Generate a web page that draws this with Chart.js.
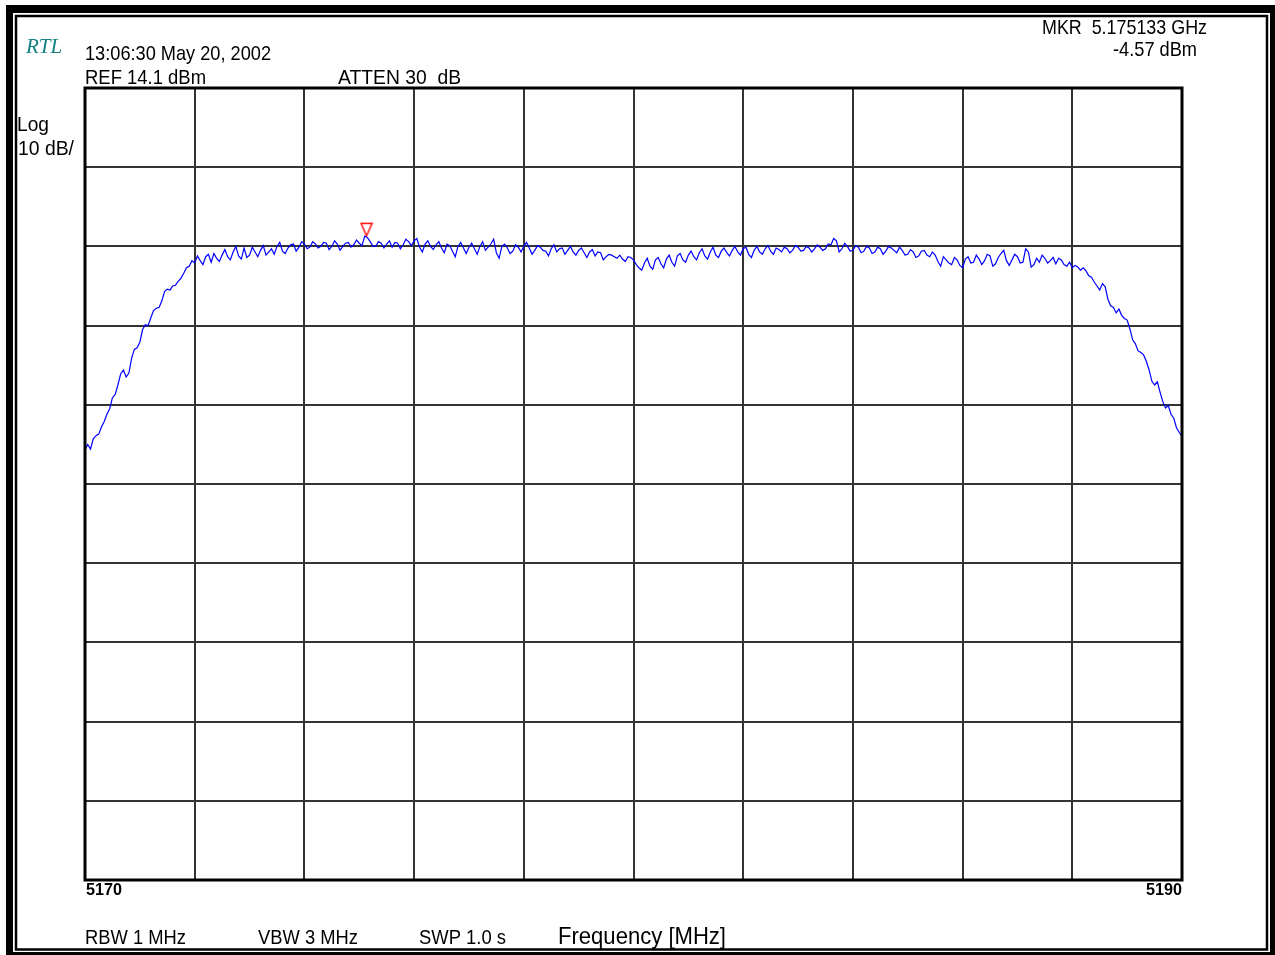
<!DOCTYPE html>
<html>
<head>
<meta charset="utf-8">
<title>Spectrum 5170-5190 MHz</title>
<script src="https://cdn.jsdelivr.net/npm/chart.js@4.4.1/dist/chart.umd.min.js"></script>
<style>
  html, body { margin: 0; padding: 0; background: #fff; }
  canvas { display: block; }
</style>
</head>
<body>
<canvas id="spec" width="1275" height="955"></canvas>
<script>
// sweep: 401 points, 5170..5190 MHz
var FREQ_START_MHZ = 5170;
var FREQ_STOP_MHZ = 5190;

// trace level in dBm (0.05 MHz per point)
var LEVEL_DBM = [
  -31.6, -30.9, -31.5, -30.2, -29.8, -29.6, -28.7, -28.0, -27.1, -26.4, -25.0, -24.6, -23.4, -22.0, -21.5, -22.4, -21.9, -20.0, -18.9, -18.7,
  -18.0, -16.4, -15.8, -15.9, -14.9, -14.0, -13.7, -13.6, -12.8, -11.6, -11.3, -11.4, -10.9, -10.8, -10.3, -9.9, -9.3, -8.6, -8.4, -7.7,
  -8.0, -7.1, -7.7, -8.2, -7.2, -6.9, -7.9, -6.8, -7.4, -7.8, -7.0, -6.3, -7.2, -7.6, -6.6, -5.9, -7.1, -7.5, -6.1, -7.3,
  -7.0, -6.0, -6.6, -7.2, -6.4, -5.8, -7.0, -6.6, -6.2, -6.9, -5.9, -5.4, -6.5, -6.8, -6.1, -5.7, -5.6, -6.5, -6.0, -5.3,
  -5.6, -6.2, -6.0, -5.3, -5.6, -6.1, -5.9, -5.4, -5.5, -6.3, -5.9, -5.2, -5.6, -6.4, -5.9, -5.5, -5.4, -6.0, -5.7, -5.1,
  -5.5, -5.8, -4.6, -4.8, -5.3, -5.9, -5.9, -5.3, -5.5, -6.1, -5.6, -5.2, -6.0, -5.4, -5.5, -6.2, -5.7, -5.0, -5.3, -5.8,
  -5.2, -4.9, -6.0, -6.6, -5.6, -5.2, -5.9, -6.3, -5.7, -5.3, -6.1, -6.7, -5.6, -5.8, -6.5, -7.2, -5.9, -5.4, -6.1, -6.8,
  -6.0, -5.5, -6.2, -6.9, -5.9, -5.3, -6.4, -6.0, -5.6, -5.0, -6.7, -7.4, -5.9, -5.6, -6.1, -6.8, -6.5, -5.7, -6.0, -6.6,
  -5.9, -5.4, -6.1, -6.9, -6.4, -5.8, -6.0, -6.4, -6.5, -7.1, -6.2, -5.7, -6.6, -6.2, -6.1, -6.9, -6.4, -5.9, -6.6, -7.0,
  -6.4, -6.1, -6.7, -7.3, -6.6, -6.3, -7.1, -6.6, -6.7, -7.6, -7.2, -6.9, -7.0, -7.2, -7.4, -7.0, -7.5, -7.8, -7.2, -7.3,
  -7.6, -8.2, -8.6, -8.9, -8.0, -7.4, -8.4, -8.8, -7.6, -7.3, -8.1, -8.6, -7.5, -7.0, -7.9, -8.4, -7.1, -6.8, -7.6, -7.9,
  -7.0, -6.5, -7.2, -7.6, -6.7, -6.2, -7.1, -7.5, -6.6, -6.0, -7.0, -7.3, -6.5, -6.1, -6.7, -7.1, -6.4, -5.9, -6.6, -7.0,
  -6.2, -6.0, -6.9, -7.3, -6.4, -5.9, -6.6, -6.9, -6.2, -5.8, -6.5, -6.9, -6.1, -6.3, -6.6, -6.0, -6.2, -6.7, -6.4, -5.8,
  -6.0, -6.5, -6.4, -5.9, -6.1, -6.6, -6.2, -5.7, -6.0, -6.4, -6.2, -5.6, -5.7, -4.9, -5.2, -6.6, -6.2, -5.5, -5.9, -6.5,
  -6.4, -5.8, -6.0, -6.7, -6.5, -5.9, -6.1, -6.8, -6.6, -6.0, -6.2, -6.9, -6.5, -5.9, -6.1, -6.4, -6.7, -6.0, -6.4, -7.0,
  -6.9, -6.3, -6.6, -7.3, -7.1, -6.5, -6.4, -7.0, -7.2, -6.6, -7.0, -7.8, -8.4, -7.2, -7.6, -8.0, -8.2, -7.3, -7.6, -8.3,
  -8.6, -7.5, -7.2, -8.0, -7.9, -7.0, -7.5, -8.2, -7.7, -6.9, -7.1, -8.4, -8.1, -7.3, -6.8, -6.4, -7.7, -8.3, -7.6, -6.9,
  -7.2, -8.0, -7.9, -6.2, -6.6, -8.5, -8.2, -7.4, -7.9, -7.0, -7.4, -8.0, -7.7, -7.3, -8.1, -7.4, -7.6, -8.2, -8.4, -7.9,
  -8.6, -8.3, -8.5, -8.9, -8.6, -9.0, -9.6, -9.8, -10.4, -10.9, -11.4, -10.6, -11.0, -12.6, -13.4, -13.6, -14.3, -13.8, -14.6, -15.0,
  -15.2, -16.3, -17.7, -18.2, -19.1, -19.3, -19.6, -20.4, -21.5, -22.9, -23.4, -23.0, -24.3, -25.5, -26.3, -26.0, -27.1, -27.6, -28.8, -29.4,
  -29.9
];

// graticule: 10 dB/div from REF 14.1 dBm, 2 MHz/div
var LEVEL_GRID_DBM = [14.1, 4.1, -5.9, -15.9, -25.9, -35.9, -45.9, -55.9, -65.9, -75.9, -85.9];
var FREQ_GRID_MHZ = [5170, 5172, 5174, 5176, 5178, 5180, 5182, 5184, 5186, 5188, 5190];
var FREQ_TICK_LABELS = ["5170", "5190"];

// marker
var MARKER_FREQ_MHZ = [5175.133];
var MARKER_LEVEL_DBM = [-4.57];

var step = (FREQ_STOP_MHZ - FREQ_START_MHZ) / (LEVEL_DBM.length - 1);
var trace = LEVEL_DBM.map(function (v, i) {
  return { x: FREQ_START_MHZ + i * step, y: v };
});
var markers = MARKER_FREQ_MHZ.map(function (f, i) {
  return { x: f, y: MARKER_LEVEL_DBM[i] };
});

// hollow red triangle, tip at the canvas centre
var mk = document.createElement("canvas");
mk.width = 14;
mk.height = 30;
(function () {
  var c = mk.getContext("2d");
  c.strokeStyle = "#ff0000";
  c.lineWidth = 1.4;
  c.beginPath();
  c.moveTo(1.5, 2.5);
  c.lineTo(12.5, 2.5);
  c.lineTo(7, 15);
  c.closePath();
  c.stroke();
})();

var SANS = '"Liberation Sans", Arial, sans-serif';
// text on the screen: [text, x, baseline, font, width, align, colour]
var LABELS = [
  ["RTL", 26, 53, 'italic 21px "Liberation Serif", serif', 38, "left", "#148282"],
  ["13:06:30 May 20, 2002", 85, 60, "21px " + SANS, 186, "left"],
  ["REF 14.1 dBm", 85, 84, "21px " + SANS, 121, "left"],
  ["ATTEN 30  dB", 338, 84, "21px " + SANS, 123, "left"],
  ["MKR  5.175133 GHz", 1042, 34, "21px " + SANS, 165, "left"],
  ["-4.57 dBm", 1197, 56, "21px " + SANS, 84, "right"],
  ["Log", 17, 131, "21px " + SANS, 32, "left"],
  ["10 dB/", 18, 155, "21px " + SANS, 56, "left"],
  [FREQ_TICK_LABELS[0], 86, 895, "bold 17px " + SANS, 36, "left"],
  [FREQ_TICK_LABELS[1], 1182, 895, "bold 17px " + SANS, 36, "right"],
  ["RBW 1 MHz", 85, 944, "20px " + SANS, 101, "left"],
  ["VBW 3 MHz", 258, 944, "20px " + SANS, 100, "left"],
  ["SWP 1.0 s", 419, 944, "20px " + SANS, 87, "left"],
  ["Frequency [MHz]", 558, 944, "24px " + SANS, 168, "left"]
];

var screenPlugin = {
  id: "screen",
  beforeDraw: function (chart) {
    var ctx = chart.ctx;
    ctx.save();
    ctx.fillStyle = "#fff";
    ctx.fillRect(0, 0, chart.width, chart.height);
    ctx.fillStyle = "#000";
    ctx.fillRect(6, 5, 1269, 950);
    ctx.fillStyle = "#fff";
    ctx.fillRect(13, 13, 1257, 939);
    ctx.strokeStyle = "#000";
    ctx.lineWidth = 2.5;
    ctx.strokeRect(16, 16, 1251, 933.5);
    ctx.restore();
  },
  afterDraw: function (chart) {
    var ctx = chart.ctx;
    var a = chart.chartArea;
    ctx.save();
    ctx.strokeStyle = "#000";
    ctx.lineWidth = 3;
    ctx.strokeRect(a.left, a.top, a.right - a.left, a.bottom - a.top);
    ctx.textBaseline = "alphabetic";
    LABELS.forEach(function (l) {
      ctx.font = l[3];
      ctx.fillStyle = l[6] || "#000";
      ctx.textAlign = l[5];
      ctx.fillText(l[0], l[1], l[2], l[4]);
    });
    ctx.restore();
  }
};

new Chart(document.getElementById("spec").getContext("2d"), {
  type: "line",
  data: {
    datasets: [
      {
        data: trace,
        borderColor: "#0000ff",
        borderWidth: 1.2,
        pointRadius: 0,
        tension: 0,
        fill: false
      },
      {
        data: markers,
        showLine: false,
        pointStyle: mk,
        pointRadius: 6,
        borderColor: "#ff0000",
        backgroundColor: "#ff0000"
      }
    ]
  },
  options: {
    responsive: false,
    animation: false,
    events: [],
    layout: { padding: { left: 85, top: 88, right: 93, bottom: 75 } },
    plugins: { legend: { display: false }, tooltip: { enabled: false } },
    scales: {
      x: {
        type: "linear",
        min: FREQ_START_MHZ,
        max: FREQ_STOP_MHZ,
        afterBuildTicks: function (s) {
          s.ticks = FREQ_GRID_MHZ.map(function (v) { return { value: v }; });
        },
        afterFit: function (s) { s.height = 0; },
        ticks: { display: false },
        grid: { color: "#333", lineWidth: 2, drawTicks: false },
        border: { display: false }
      },
      y: {
        type: "linear",
        min: LEVEL_GRID_DBM[LEVEL_GRID_DBM.length - 1],
        max: LEVEL_GRID_DBM[0],
        afterBuildTicks: function (s) {
          s.ticks = LEVEL_GRID_DBM.map(function (v) { return { value: v }; });
        },
        afterFit: function (s) { s.width = 0; },
        ticks: { display: false },
        grid: { color: "#333", lineWidth: 2, drawTicks: false },
        border: { display: false }
      }
    }
  },
  plugins: [screenPlugin]
});
</script>
</body>
</html>
